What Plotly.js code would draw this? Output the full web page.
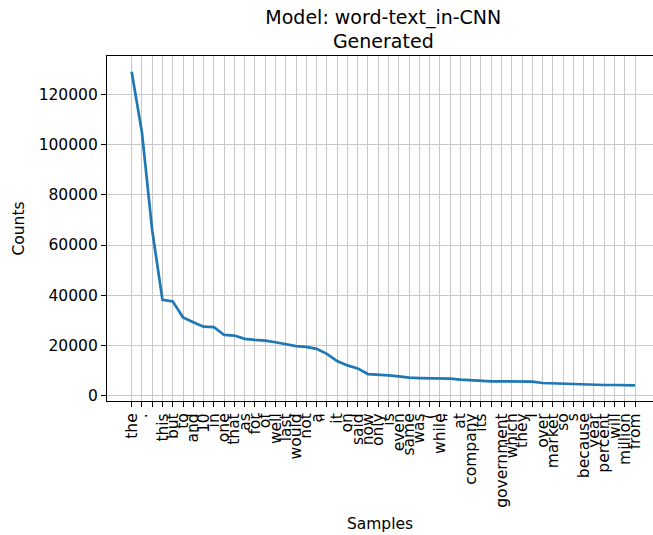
<!DOCTYPE html>
<html>
<head>
<meta charset="utf-8">
<script src="https://cdn.plot.ly/plotly-3.0.1.min.js"></script>
<style>html,body{margin:0;padding:0;background:#fff;}#chart{width:653px;height:535px;}</style>
</head>
<body>
<div id="chart"></div>
<script>
const samples = ["the", ".", " ", "this", "but", "to", "and", "10", "in", "one",
  "that", "as", "for", "of", "well", "last", "would", "not", "a", "''",
  "it", "on", "said", "now", "only", "is", "even", "same", "was", "(",
  "while", "''", "at", "company", "its", " ", "government", "which", "they", "I",
  "over", "market", "so", "s", "because", "year", "percent", "will", "million", "from"];
const counts = [128900, 104800, 65900, 38200, 37600, 31250, 29300, 27550, 27400, 24250,
  24000, 22700, 22300, 22000, 21350, 20550, 19800, 19500, 18700, 16750,
  13850, 12150, 10950, 8700, 8300, 8150, 7800, 7250, 7100, 7000,
  6990, 6850, 6450, 6200, 5950, 5800, 5800, 5800, 5780, 5650,
  5150, 5000, 4750, 4740, 4600, 4480, 4350, 4350, 4340, 4220];
const yTicks = [0, 20000, 40000, 60000, 80000, 100000, 120000];

const idx = samples.map((_, i) => i);
const font = "DejaVu Sans, sans-serif";

Plotly.newPlot("chart", [{
  x: idx,
  y: counts,
  type: "scatter",
  mode: "lines",
  line: {color: "#1f77b4", width: 2.7},
  hoverinfo: "skip"
}], {
  width: 653, height: 535,
  margin: {l: 107, r: 0, t: 56, b: 134},
  paper_bgcolor: "#fff", plot_bgcolor: "#fff",
  showlegend: false,
  title: {text: "Model: word-text_in-CNN<br>Generated", font: {family: font, size: 19, color: "#000"},
          x: 0.587, xanchor: "center", y: 0.956, yanchor: "top"},
  xaxis: {
    range: [-2.4, 50.75],
    tickvals: idx, ticktext: samples, tickangle: -90,
    tickfont: {family: font, size: 15.5, color: "#000"},
    ticks: "outside", ticklen: 5, tickcolor: "#000", tickwidth: 1,
    showgrid: true, gridcolor: "#c8c8c8", gridwidth: 1,
    zeroline: false, showline: true, mirror: true, linecolor: "#000", linewidth: 1.1,
    title: {text: "Samples", font: {family: font, size: 15.5, color: "#000"}, standoff: 11},
    automargin: false
  },
  yaxis: {
    range: [-2016, 135176],
    tickvals: yTicks, ticktext: yTicks.map(String),
    tickfont: {family: font, size: 15.5, color: "#000"},
    ticks: "outside", ticklen: 5, tickcolor: "#000", tickwidth: 1,
    showgrid: true, gridcolor: "#c8c8c8", gridwidth: 1,
    zeroline: false, showline: true, mirror: false, linecolor: "#000", linewidth: 1.1,
    title: {text: "Counts", font: {family: font, size: 15.5, color: "#000"}, standoff: 10},
    automargin: false
  }
}, {staticPlot: true, displayModeBar: false});
</script>
</body>
</html>
